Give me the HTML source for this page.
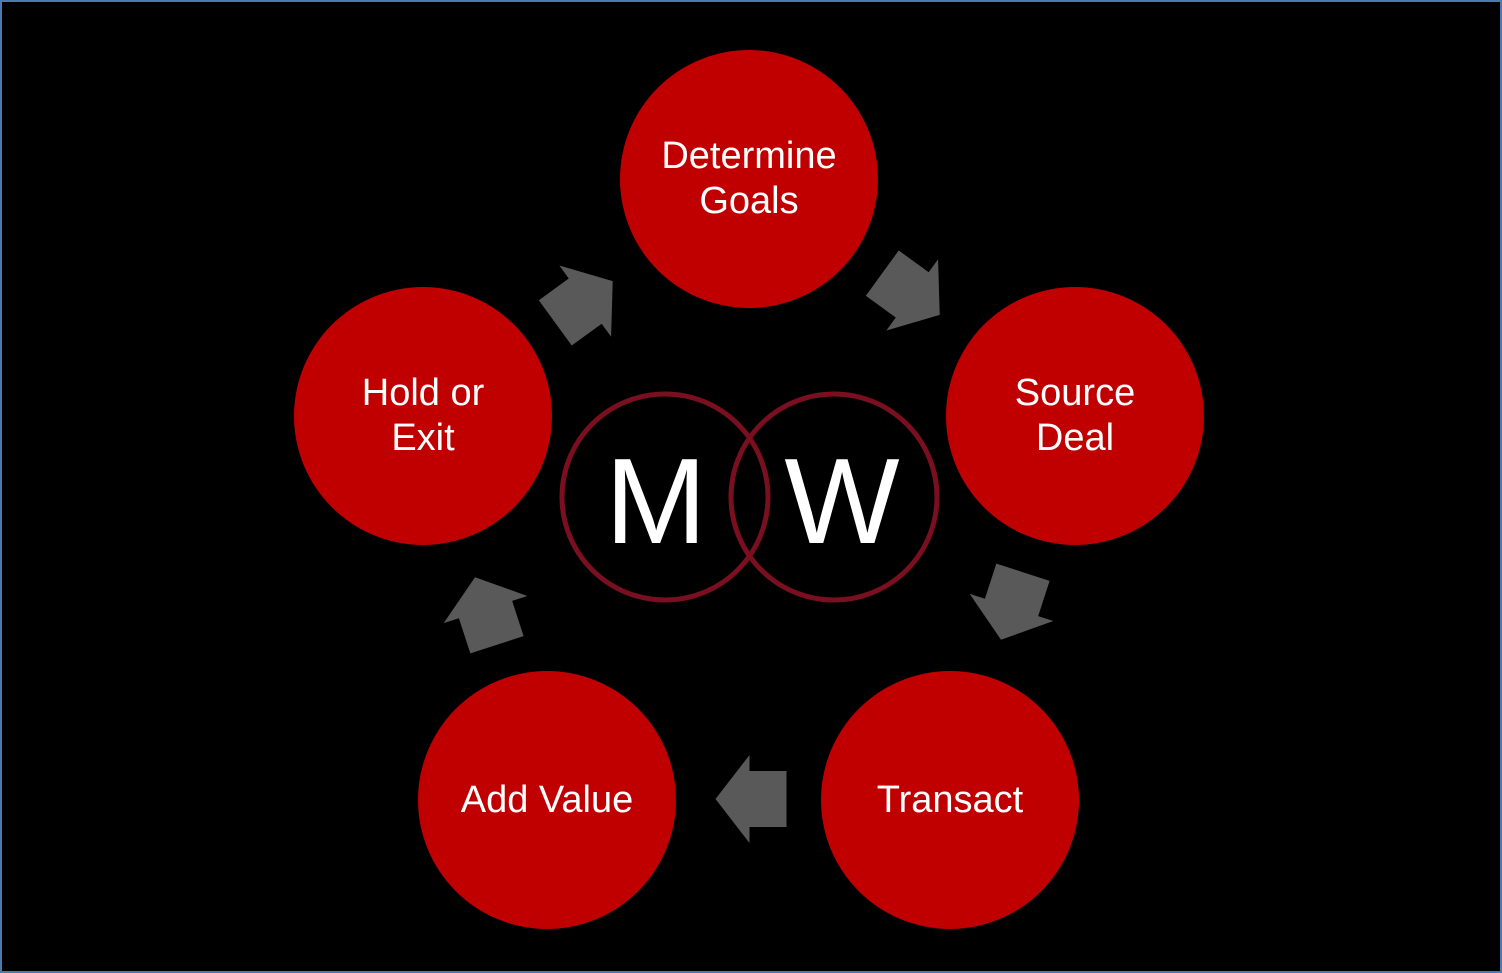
<!DOCTYPE html>
<html><head><style>
html,body{margin:0;padding:0;background:#000;}
</style></head><body>
<svg width="1502" height="973" viewBox="0 0 1502 973" xmlns="http://www.w3.org/2000/svg" style="display:block">
<rect x="1" y="1" width="1500" height="971" fill="#000" stroke="#4a7ab0" stroke-width="2"/>
<g fill="#c00000">
<circle cx="749" cy="179" r="129"/>
<circle cx="1075" cy="416" r="129"/>
<circle cx="950" cy="800" r="129"/>
<circle cx="547" cy="800" r="129"/>
<circle cx="423" cy="416" r="129"/>
</g>
<g fill="#595959">
<defs><polygon id="ar" points="35.5,0 1.5,-44 1.5,-28 -35.5,-28 -35.5,28 1.5,28 1.5,44"/></defs>
<use href="#ar" transform="translate(751,799) rotate(180)"/>
<use href="#ar" transform="translate(911,294) rotate(36)"/>
<use href="#ar" transform="translate(1012,606) rotate(108)"/>
<use href="#ar" transform="translate(486,611) rotate(252)"/>
<use href="#ar" transform="translate(584,302) rotate(-36)"/>
</g>
<g fill="none" stroke="#7a0f20" stroke-width="5">
<circle cx="665" cy="497" r="103"/>
<circle cx="834" cy="497" r="103"/>
</g>
<g font-family="Liberation Sans, sans-serif" fill="#fff" text-anchor="middle">
<text x="656" y="543" font-size="122">M</text>
<text x="842" y="543" font-size="122">W</text>
<g font-size="38">
<text x="749" y="168">Determine</text>
<text x="749" y="213">Goals</text>
<text x="1075" y="405">Source</text>
<text x="1075" y="450">Deal</text>
<text x="950" y="812">Transact</text>
<text x="547" y="812">Add Value</text>
<text x="423" y="405">Hold or</text>
<text x="423" y="450">Exit</text>
</g>
</g>
</svg>
</body></html>
